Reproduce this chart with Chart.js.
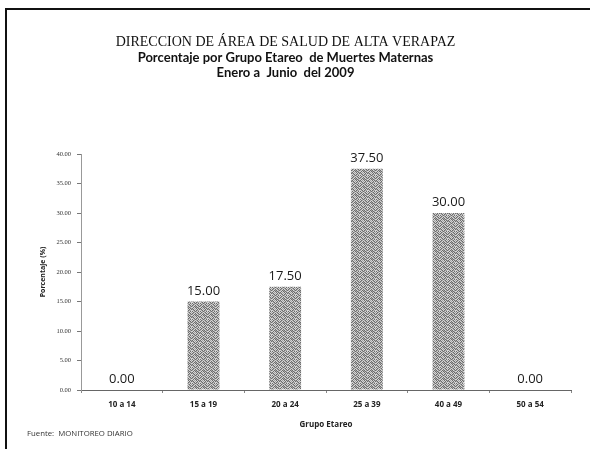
<!DOCTYPE html>
<html>
<head>
<meta charset="utf-8">
<script src="https://cdn.jsdelivr.net/npm/chart.js@4/dist/chart.umd.min.js"></script>
<style>
  html, body { margin: 0; padding: 0; background: #fff; }
  #wrap { position: relative; width: 590px; height: 449px; overflow: hidden; }
  #frame { position: absolute; left: 5px; top: 8px; right: -4px; bottom: -4px; border-left: 2px solid #111; border-top: 2px solid #111; }
  #chart { position: absolute; left: 0; top: 0; }
  #fuente { position: absolute; left: 27px; top: 428px; font: 7.8px 'Open Sans', sans-serif; color: #333; }
</style>
</head>
<body>
<div id="wrap">
  <div id="frame"></div>
  <canvas id="chart" width="590" height="449"></canvas>
  <div id="fuente">Fuente:&nbsp; MONITOREO DIARIO</div>
</div>
<script>
// datos
const grupos = ['10 a 14', '15 a 19', '20 a 24', '25 a 39', '40 a 49', '50 a 54'];
const porcentajes = [0.00, 15.00, 17.50, 37.50, 30.00, 0.00];
const yTicks = [0, 5, 10, 15, 20, 25, 30, 35, 40];

// dithered gray fill like the scanned bars (fixed 8x8 tile)
function makePattern() {
    const tile = [
        '20121021',
        '01202102',
        '12010210',
        '20201012',
        '02120201',
        '10212020',
        '21020112',
        '02101202'
    ];
    const shades = ['#6c6c6c', '#a4a4a4', '#d6d6d6'];
    const c = document.createElement('canvas');
    c.width = 8; c.height = 8;
    const g = c.getContext('2d');
    for (let y = 0; y < 8; y++) {
        for (let x = 0; x < 8; x++) {
            g.fillStyle = shades[+tile[y][x]];
            g.fillRect(x, y, 1, 1);
        }
    }
    return g.createPattern(c, 'repeat');
}

// value labels over the bars
const valueLabels = {
    id: 'valueLabels',
    afterDatasetsDraw(chart) {
        const ctx = chart.ctx;
        const meta = chart.getDatasetMeta(0);
        ctx.save();
        ctx.font = '13px "Open Sans", sans-serif';
        ctx.fillStyle = '#1a1a1a';
        ctx.textAlign = 'center';
        ctx.textBaseline = 'bottom';
        meta.data.forEach(function(bar, i) {
            ctx.fillText(porcentajes[i].toFixed(2), bar.x, bar.y - 4);
        });
        ctx.restore();
    }
};

const ctx = document.getElementById('chart').getContext('2d');
const chart = new Chart(ctx, {
    type: 'bar',
    data: {
        labels: grupos,
        datasets: [{
            data: porcentajes,
            backgroundColor: makePattern(),
            borderWidth: 0,
            barPercentage: 0.39,
            categoryPercentage: 1
        }]
    },
    options: {
        responsive: false,
        animation: false,
        layout: { padding: { top: 34, left: 0, right: 19, bottom: 14 } },
        plugins: {
            legend: { display: false },
            tooltip: { enabled: false },
            title: {
                display: true,
                text: 'DIRECCION DE ÁREA DE SALUD DE ALTA VERAPAZ',
                font: { family: '"Liberation Serif", serif', size: 14, weight: 'normal', lineHeight: 1.15 },
                color: '#111',
                padding: { top: 0, bottom: 0 }
            },
            subtitle: {
                display: true,
                text: ['Porcentaje por Grupo Etareo  de Muertes Maternas', 'Enero a  Junio  del 2009'],
                font: { family: 'Lato, sans-serif', size: 13, weight: 'bold', lineHeight: 1.15 },
                color: '#111',
                padding: { top: 0, bottom: 74 }
            }
        },
        scales: {
            x: {
                grid: { offset: true, drawOnChartArea: false, tickLength: 3, color: '#888' },
                border: { color: '#666', width: 1 },
                ticks: { font: { family: '"Open Sans", sans-serif', size: 8, weight: 'bold' }, color: '#222', padding: 7 },
                title: {
                    display: true,
                    text: 'Grupo Etareo',
                    font: { family: '"Open Sans", sans-serif', size: 8, weight: 'bold' },
                    color: '#222',
                    padding: { top: 0, bottom: 5 }
                },
                afterFit(s) { s.height = 45; }
            },
            y: {
                min: 0,
                max: 40,
                afterBuildTicks(s) { s.ticks = yTicks.map(v => ({ value: v })); },
                grid: { drawOnChartArea: false, tickLength: 4, color: '#777' },
                border: { color: '#999', width: 1, dash: [1, 2] },
                ticks: {
                    font: { family: '"Liberation Serif", serif', size: 6.5 },
                    color: '#333',
                    padding: 6,
                    callback: v => Number(v).toFixed(2)
                },
                title: {
                    display: true,
                    text: 'Porcentaje (%)',
                    font: { family: '"Open Sans", sans-serif', size: 7, weight: 'bold' },
                    color: '#222',
                    padding: { top: 39, bottom: 0 }
                },
                afterFit(s) { s.width = 81; }
            }
        }
    },
    plugins: [valueLabels]
});
</script>
</body>
</html>
